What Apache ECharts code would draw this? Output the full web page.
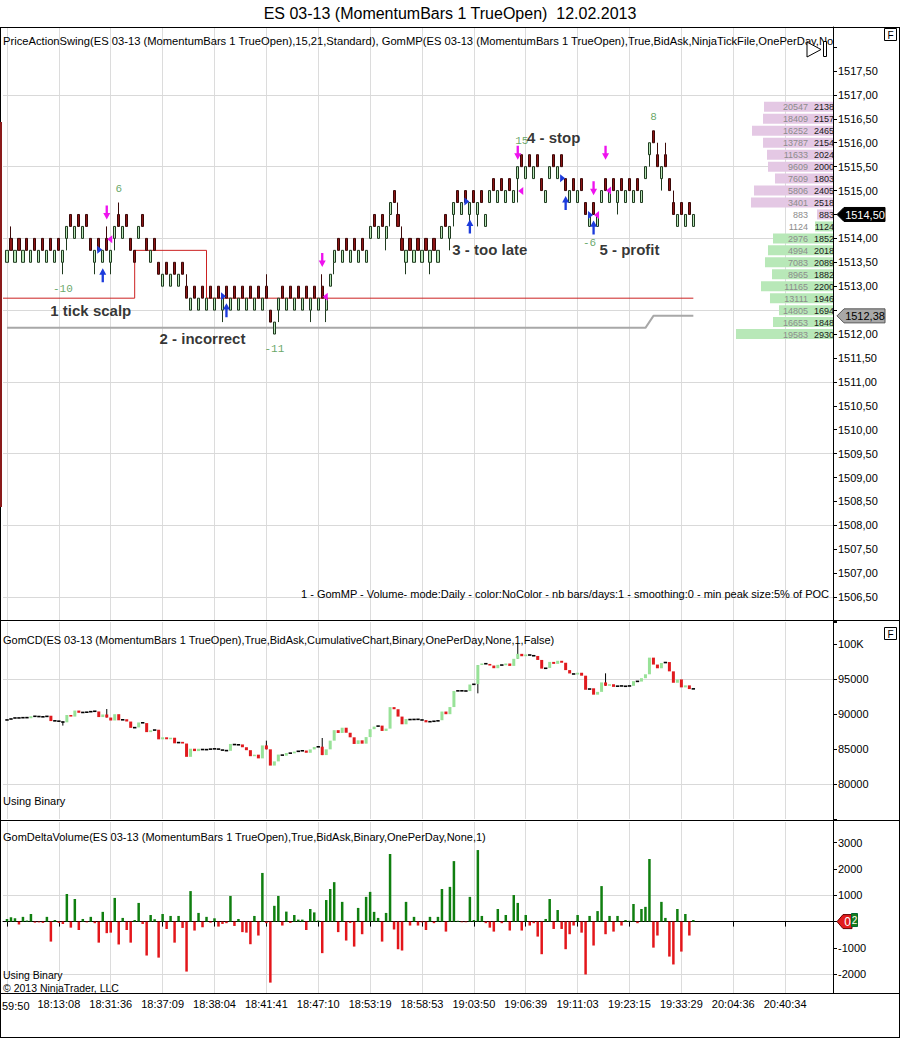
<!DOCTYPE html>
<html><head><meta charset="utf-8">
<script src="https://cdn.jsdelivr.net/npm/echarts@6/dist/echarts.min.js"></script>
<style>html,body{margin:0;padding:0;background:#fff}#chart{width:900px;height:1039px}</style>
</head><body><div id="chart"></div>
<script>
const FONT = '"Liberation Sans", Arial, Helvetica, sans-serif';
const MONO = '"Liberation Mono", "DejaVu Sans Mono", monospace';

// ---------- data ----------
// first label is shown clipped in the original as "59:50"
const timeLabels = ['59:50','18:13:08','18:31:36','18:37:09','18:38:04','18:41:41','18:47:10','18:53:19','18:58:53','19:03:50','19:06:39','19:11:03','19:23:15','19:33:29','20:04:36','20:40:34'];

const barOpen = [
1513.5,1514,1513.5,1514,1513.5,1514,1513.5,1514,1513.5,1514,
1513.5,1514,1513.5,1514,1513.5,1514,1514.5,1514,1514.5,1514,
1514.5,1514,1513.5,1514,1513.5,1514,1513.5,1514,1514.5,1514,
1514.5,1514,1513.75,1514,1514.5,1514,1513.5,1514,1513.5,1513,
1513.5,1513,1513.5,1513,1513.5,1513,1512.5,1513,1512.5,1513,
1512.5,1513,1512.5,1513,1512.5,1513,1512.5,1513,1512.5,1513,
1512.5,1513,1512.5,1513,1512.5,1513,1512.5,1512,1512.5,1513,
1512.5,1513,1512.5,1513,1512.5,1513,1512.5,1513,1512.5,1513,
1512.5,1513,1513.5,1514,1513.5,1514,1513.5,1514,1513.5,1514,
1513.5,1514,1514.5,1514,1514.5,1514,1514.5,1515,1514.5,1514,
1513.5,1514,1513.5,1514,1513.5,1514,1513.5,1514,1513.5,1514,
1514.5,1514,1514.5,1515,1514.5,1515,1514.5,1515,1514.5,1515,
1514.25,1514.75,1515.25,1514.75,1515.25,1514.75,1515.25,1514.75,1515.25,1515.75,
1515.25,1515.75,1515.25,1515.75,1515.25,1514.75,1515.25,1515.75,1515.25,1515.75,
1515.25,1514.75,1515.25,1514.75,1515.25,1514.75,1514.25,1514.75,1514.25,1514.75,
1515.25,1514.75,1515.25,1514.75,1515.25,1514.75,1515.25,1514.75,1515.25,1514.75,
1515.25,1515.75,1516.25,1515.75,1515.25,1515.75,1515.25,1514.75,1514.25,1514.75,
1514.25,1514.75,1514.25];
const barClose = [
1513.75,1513.75,1513.75,1513.75,1513.75,1513.75,1513.75,1513.75,1513.75,1513.75,
1513.75,1513.75,1513.75,1513.75,1513.75,1514.25,1514.25,1514.25,1514.25,1514.25,
1514.25,1513.75,1513.75,1513.75,1513.75,1513.75,1513.75,1514.25,1514.25,1514.25,
1514.25,1513.75,1513.5,1514.25,1514.25,1513.75,1513.75,1513.75,1513.25,1513.25,
1513.25,1513.25,1513.25,1513.25,1513.25,1512.75,1512.75,1512.75,1512.75,1512.75,
1512.75,1512.75,1512.75,1512.75,1512.75,1512.75,1512.75,1512.75,1512.75,1512.75,
1512.75,1512.75,1512.75,1512.75,1512.75,1512.75,1512.25,1512.25,1512.75,1512.75,
1512.75,1512.75,1512.75,1512.75,1512.75,1512.75,1512.75,1512.75,1512.75,1512.75,
1512.75,1513.25,1513.75,1513.75,1513.75,1513.75,1513.75,1513.75,1513.75,1513.75,
1513.75,1514.25,1514.25,1514.25,1514.25,1514.25,1514.75,1514.75,1514.25,1513.75,
1513.75,1513.75,1513.75,1513.75,1513.75,1513.75,1513.75,1513.75,1513.75,1514.25,
1514.25,1514.25,1514.75,1514.75,1514.75,1514.75,1514.75,1514.75,1514.75,1514.75,
1514.5,1515,1515,1515,1515,1515,1515,1515,1515.5,1515.5,
1515.5,1515.5,1515.5,1515.5,1515,1515,1515.5,1515.5,1515.5,1515.5,
1515,1515,1515,1515,1515,1514.5,1514.5,1514.5,1514.5,1515,
1515,1515,1515,1515,1515,1515,1515,1515,1515,1515,
1515.5,1516,1516,1515.5,1515.5,1515.5,1515,1514.5,1514.5,1514.5,
1514.5,1514.5,1514.5];
const wickHigh = {1:1514.25,25:1514.25,28:1514.75,45:1513.25,65:1513.25,79:1513.25,98:1514.75,99:1514.25,150:1515.25,156:1515.25,163:1516.0,165:1516.0,167:1515.0};
const wickLow = {14:1513.25,15:1513.75,22:1513.25,26:1513.25,27:1513.75,54:1512.25,68:1512.25,76:1512.25,80:1512.25,82:1513.25,95:1513.75,96:1514.25,100:1513.25,106:1513.25,111:1513.75,112:1514.25,116:1514.25,118:1514.25,128:1514.75,153:1514.5,161:1515.5,164:1515.0};

const srLine = [[-1,1512.75],[32,1513.75],[50,1512.75],[172,1512.75]];
const pocLine = [[0,1512.13],[160,1512.13],[162,1512.38],[172,1512.38]];

const sellArrows = [[25,1514.54],[79,1513.55],[128,1515.79],[147,1515.05],[150,1515.79]];
const buyArrows = [[24,1513.23],[55,1512.5],[116,1514.25],[140,1514.74],[147,1514.23]];
const buyTris = [[23,1513.76],[54,1512.79],[115,1514.77],[139,1515.26],[146,1514.49]];
const sellTris = [[26,1513.98],[80,1512.78],[129,1514.99],[148,1514.49],[151,1515.0]];

const swingLabels = [[28,1515.03,'6'],[14,1512.94,'-10'],[67,1511.69,'-11'],[129,1516.04,'15'],[162,1516.54,'8'],[146,1513.9,'-6']];
const notes = [[21,1512.50,'1 tick scalp'],[49,1511.90,'2 - incorrect'],[121,1513.76,'3 - too late'],[137,1516.12,'4 - stop'],[156,1513.76,'5 - profit']];

const lastPrice = 1514.50;
const priceTags = [[1514.50,'1514,50'],[1512.38,'1512,38']];

const profilePrice = [1516.75,1516.5,1516.25,1516.0,1515.75,1515.5,1515.25,1515.0,1514.75,1514.5,1514.25,1514.0,1513.75,1513.5,1513.25,1513.0,1512.75,1512.5,1512.25,1512.0];
const profileCum = [20547,18409,16252,13787,11633,9609,7609,5806,3401,883,1124,2976,4994,7083,8965,11165,13111,14805,16653,19583];
const profileVol = [2138,2157,2465,2154,2024,2000,1803,2405,2518,883,1124,1852,2018,2089,1882,2200,1946,1694,1848,2930];
const profileBar = [2110,2140,2477,2140,2018,1988,1774,2416,2508,490,550,1835,1988,2080,1865,2202,1927,1651,1835,2966];

const cdFirstOpen = 89100;
const cdClose = [
89200,89370,89490,89380,89560,89400,89690,89650,89620,89570,
89750,88990,89050,88900,88810,89860,89630,90490,90170,90270,
90240,90420,90360,89560,89930,89490,89070,89970,89100,89240,
88920,88020,88080,88790,88700,87410,87660,87750,86380,86670,
86390,86610,85810,86020,85780,83880,85040,84700,85030,84820,
85000,84960,85080,84890,84800,84740,85720,85550,85650,85250,
84830,83970,84190,83660,85510,84950,82630,83230,84200,84050,
84430,84380,84630,84710,84780,84460,84940,85290,85330,84130,
84950,86190,87690,87290,88040,87320,86670,85720,86240,85760,
86700,87830,88200,88340,87580,87910,90980,90680,89630,88530,
89280,89130,89310,89160,89130,88810,88990,88930,89110,90350,
89970,90990,93290,93320,93300,93270,94210,94270,96990,97210,
97150,96920,96540,97020,96960,97210,96870,97880,98590,98250,
98500,98350,98290,97720,96480,96580,97440,97160,97600,97320,
96270,95790,95640,95890,95470,93460,93670,92760,93160,94510,
94030,94250,93870,94080,93930,93990,94020,94690,94630,95110,
95670,98050,97060,96530,97280,97420,96090,94460,94940,93800,
94090,93560,93620];
const cdWickHigh = {25:90710,65:86190,79:86570,128:100000,150:95810};
const cdWickLow = {14:88340,118:92950};

const deltaVol = [
100,165,125,-110,180,40,290,-40,-30,-50,
180,-760,60,-50,-90,1050,-230,860,-320,100,
-30,180,-60,-800,370,-440,-420,900,-870,140,
-320,-800,60,710,-90,-1290,250,90,-1370,290,
-280,215,-800,215,-240,-1900,1160,-340,330,-215,
180,-40,125,-190,-90,-60,975,-165,100,-400,
-420,-860,215,-530,1850,-60,-2320,600,975,-150,
380,-50,250,75,75,-320,480,350,40,-1200,
820,1240,1500,-400,750,-720,-50,-950,520,-480,
940,1130,370,140,-760,330,2570,-300,-1050,-1100,
750,-150,180,-150,-30,-320,180,-60,180,1240,
-380,1320,2300,30,-25,-25,940,60,2720,215,
-60,-230,-380,480,-60,250,-340,1010,710,-340,
250,-150,-60,-570,-1240,100,860,-280,440,-280,
-1050,-480,-150,250,-420,-2010,215,-910,400,1350,
-480,215,-380,215,-150,60,30,670,-60,480,
560,2380,-990,-530,750,140,-1330,-1630,480,-1140,
290,-530,60];
const deltaTicks = [-2000,-1000,0,1000,2000,3000];
const deltaTags = [[0,'0'],[60,'2']];

const priceGridLevels = [1506.5,1508,1509.5,1511,1512.5,1514,1515.5,1517];
const cdGridLevels = [80000,95000];
const deltaGridLevels = [1000,-2000];

// ---------- layout helpers ----------
const SLOTS = 209;          // 1 leading slot + bars + future slots
const LABEL_EVERY = 13;
const cats = Array.from({length: SLOTS}, (_, i) => String(i));
const slot = i => i + 1;    // bar index -> category slot
const tickInt = idx => idx >= 1 && (idx - 1) % LABEL_EVERY === 0;
// the first label sits on the left edge; it is drawn left-aligned separately
const labelAt = idx => (tickInt(idx) && idx > 1) ? (timeLabels[(idx - 1) / LABEL_EVERY] || '') : '';
const coveredPriceLabels = priceTags.map(t => Math.round(t[0] * 2) / 2);

const priceData = barOpen.map((o, i) => {
  const c = barClose[i];
  return [slot(i), o, c, wickLow[i] !== undefined ? wickLow[i] : Math.min(o, c), wickHigh[i] !== undefined ? wickHigh[i] : Math.max(o, c)];
});
const cdData = cdClose.map((c, i) => {
  const o = i === 0 ? cdFirstOpen : cdClose[i - 1];
  return [slot(i), o, c, cdWickLow[i] !== undefined ? cdWickLow[i] : Math.min(o, c), cdWickHigh[i] !== undefined ? cdWickHigh[i] : Math.max(o, c)];
});
const deltaData = deltaVol.map((v, i) => [slot(i), v]);

function gridLines(levels) {
  return {silent: true, symbol: ['none', 'none'], z: 1, animation: false, label: {show: false},
    lineStyle: {color: '#d9d9d9', width: 1, type: 'solid'}, emphasis: {disabled: true},
    data: levels.map(v => ({yAxis: v}))};
}
function xAxisCfg(gridIndex, main) {
  return {
    type: 'category', gridIndex, data: cats, boundaryGap: false,
    axisLine: {show: main, lineStyle: {color: '#000'}},
    axisTick: {show: main, interval: tickInt, length: 5, lineStyle: {color: '#000'}},
    axisLabel: {show: main, interval: tickInt, formatter: v => labelAt(Number(v)), color: '#000', fontSize: 11, fontFamily: FONT, margin: 5},
    splitLine: {show: true, interval: tickInt, lineStyle: {color: '#dcdcdc', width: 1}}
  };
}
function yAxisCfg(gridIndex, extra) {
  return Object.assign({
    type: 'value', gridIndex, position: 'right',
    axisLine: {show: true, lineStyle: {color: '#000'}},
    axisTick: {show: true, length: 4, lineStyle: {color: '#000'}},
    splitLine: {show: false}
  }, extra);
}
const axisLabelStyle = {margin: 5, color: '#000', fontSize: 11, fontFamily: FONT};

const arrowDown = 'path://M2,0 L4,0 L4,7 L6,7 L3,13 L0,7 L2,7 Z';
const arrowUp = 'path://M3,0 L6,6 L4,6 L4,13 L2,13 L2,6 L0,6 Z';
const triRight = 'path://M0,0 L5,3.5 L0,7 Z';
const triLeft = 'path://M5,0 L0,3.5 L5,7 Z';

function markerSeries(list, symbol, size, color, offset) {
  return {type: 'scatter', xAxisIndex: 0, yAxisIndex: 0, z: 6, symbol, symbolSize: size, symbolOffset: offset,
    itemStyle: {color, opacity: 1}, silent: true, data: list.map(d => [slot(d[0]), d[1]])};
}
function textSeries(list, labelStyle) {
  return {type: 'scatter', xAxisIndex: 0, yAxisIndex: 0, z: 7, symbolSize: 1, silent: true,
    itemStyle: {color: 'rgba(0,0,0,0)'},
    label: Object.assign({show: true, position: 'inside', formatter: p => list[p.dataIndex][2]}, labelStyle),
    data: list.map(d => [slot(d[0]), d[1]])};
}

function renderCD(params, api) {
  const x = api.value(0), o = api.value(1), c = api.value(2), l = api.value(3), h = api.value(4);
  const pO = api.coord([x, o]), pC = api.coord([x, c]), pL = api.coord([x, l]), pH = api.coord([x, h]);
  const cx = pO[0];
  const top = Math.min(pO[1], pC[1]), bot = Math.max(pO[1], pC[1]);
  const ch = [];
  if (pH[1] < top - 0.5 || pL[1] > bot + 0.5) {
    ch.push({type: 'line', shape: {x1: cx, y1: pH[1], x2: cx, y2: pL[1]}, style: {stroke: '#000', lineWidth: 1}});
  }
  if (bot - top < 1.5) {
    ch.push({type: 'rect', shape: {x: cx - 1.7, y: (top + bot) / 2 - 0.8, width: 3.4, height: 1.6}, style: {fill: '#000'}});
  } else {
    ch.push({type: 'rect', shape: {x: cx - 1.5, y: top, width: 3, height: bot - top}, style: {fill: c >= o ? '#98e298' : '#e01a1e'}});
  }
  return {type: 'group', children: ch};
}
function renderProfile(params, api) {
  const len = api.value(0), p = api.value(1), cum = api.value(2), vol = api.value(3);
  const a = api.coord([0, p]), b = api.coord([len, p]);
  const fill = p >= lastPrice ? '#e4c8e4' : '#b8e8b8';
  return {type: 'group', children: [
    {type: 'rect', shape: {x: b[0], y: a[1] - 5, width: a[0] - b[0], height: 10}, style: {fill}},
    {type: 'text', x: a[0] - 25, y: a[1] + 0.5, style: {text: String(cum), align: 'right', verticalAlign: 'middle', fill: '#8c8c8c', font: '9px ' + FONT}},
    {type: 'text', x: a[0] + 1, y: a[1] + 0.5, style: {text: String(vol), align: 'right', verticalAlign: 'middle', fill: '#1a1a1a', font: '9px ' + FONT}}
  ]};
}
const priceTagStyle = [{fill: '#000', stroke: '#000', text: '#fff'}, {fill: '#a8a8a8', stroke: '#555', text: '#000'}];
function renderPriceTag(params, api) {
  const st = priceTagStyle[params.dataIndex];
  const y = api.coord([1, api.value(1)])[1];
  const x0 = params.coordSys.x + params.coordSys.width;
  return {type: 'group', children: [
    {type: 'polygon', shape: {points: [[x0 + 4, y], [x0 + 11, y - 7], [x0 + 52, y - 7], [x0 + 52, y + 7], [x0 + 11, y + 7]]}, style: {fill: st.fill, stroke: st.stroke, lineWidth: 1}},
    {type: 'text', x: x0 + 32, y: y + 0.5, style: {text: priceTags[params.dataIndex][1], align: 'center', verticalAlign: 'middle', fill: st.text, font: '11px ' + FONT}}
  ]};
}
function renderDeltaTag(params, api) {
  const y = api.coord([1, api.value(1)])[1];
  const x0 = params.coordSys.x + params.coordSys.width;
  const txt = deltaTags[params.dataIndex][1];
  if (params.dataIndex === 0) {
    return {type: 'group', children: [
      {type: 'polygon', shape: {points: [[x0 + 4, y], [x0 + 10, y - 7], [x0 + 19, y - 7], [x0 + 19, y + 7], [x0 + 10, y + 7]]}, style: {fill: '#e21c1c', stroke: '#600', lineWidth: 1}},
      {type: 'text', x: x0 + 14.5, y: y + 0.5, style: {text: txt, align: 'center', verticalAlign: 'middle', fill: '#fff', font: '12px ' + FONT}}
    ]};
  }
  return {type: 'group', children: [
    {type: 'rect', shape: {x: x0 + 18.5, y: y - 6.5, width: 6, height: 13}, style: {fill: '#1b7d1b', stroke: '#063', lineWidth: 1}},
    {type: 'text', x: x0 + 21.5, y: y + 0.5, style: {text: txt, align: 'center', verticalAlign: 'middle', fill: '#fff', font: '10px ' + FONT}}
  ]};
}

const hdr1 = 'PriceActionSwing(ES 03-13 (MomentumBars 1 TrueOpen),15,21,Standard), GomMP(ES 03-13 (MomentumBars 1 TrueOpen),True,BidAsk,NinjaTickFile,OnePerDay,No';
const hdr2 = 'GomCD(ES 03-13 (MomentumBars 1 TrueOpen),True,BidAsk,CumulativeChart,Binary,OnePerDay,None,1,False)';
const hdr3 = 'GomDeltaVolume(ES 03-13 (MomentumBars 1 TrueOpen),True,BidAsk,Binary,OnePerDay,None,1)';
const mpNote = '1 - GomMP - Volume- mode:Daily - color:NoColor - nb bars/days:1 - smoothing:0 - min peak size:5% of POC';

function txt(x, y, text, opts) {
  return Object.assign({type: 'text', x, y, z: 70, silent: true, style: Object.assign({text, fill: '#000', font: '11px ' + FONT, verticalAlign: 'middle', align: 'left'}, opts || {})});
}
function hline(y, x1, x2) { return {type: 'line', z: 60, silent: true, shape: {x1, y1: y, x2, y2: y}, style: {stroke: '#000', lineWidth: 1}}; }
function vline(x, y1, y2, color, w) { return {type: 'line', z: 60, silent: true, shape: {x1: x, y1, x2: x, y2}, style: {stroke: color || '#000', lineWidth: w || 1}}; }
function fBox(y) {
  return [{type: 'rect', z: 61, silent: true, shape: {x: 884.5, y: y, width: 12, height: 12}, style: {fill: '#fff', stroke: '#000', lineWidth: 1}},
          txt(890.5, y + 6.5, 'F', {align: 'center', font: '10px ' + FONT})];
}

const chart = echarts.init(document.getElementById('chart'), null, {renderer: 'svg', width: 900, height: 1039});
chart.setOption({
  animation: false,
  backgroundColor: '#fff',
  title: {text: 'ES 03-13 (MomentumBars 1 TrueOpen)  12.02.2013', left: 'center', top: 5, padding: 0,
    textStyle: {fontSize: 16, fontWeight: 'normal', color: '#000', fontFamily: FONT}},
  grid: [
    {left: 3, width: 830, top: 27, height: 594, containLabel: false, outerBoundsMode: 'none'},
    {left: 3, width: 830, top: 622, height: 197, containLabel: false, outerBoundsMode: 'none'},
    {left: 3, width: 830, top: 822, height: 171, containLabel: false, outerBoundsMode: 'none'},
    {left: 733, width: 100, top: 27, height: 594, containLabel: false, outerBoundsMode: 'none'}
  ],
  xAxis: [
    xAxisCfg(0, false), xAxisCfg(1, false), xAxisCfg(2, true),
    {type: 'value', gridIndex: 3, inverse: true, min: 0, max: 3058, show: false}
  ],
  yAxis: [
    yAxisCfg(0, {min: 1506, max: 1518.42, interval: 0.5,
      axisLabel: Object.assign({formatter: v => (v >= 1506.4 && v <= 1517.6 && coveredPriceLabels.indexOf(v) < 0) ? v.toFixed(2).replace('.', ',') : ''}, axisLabelStyle)}),
    yAxisCfg(1, {min: 75000, max: 103140, interval: 5000,
      axisLabel: Object.assign({formatter: v => v === 100000 ? '100K' : ((v >= 80000 && v <= 95000) ? String(v) : '')}, axisLabelStyle)}),
    yAxisCfg(2, {min: -2715, max: 3787,
      axisTick: {show: true, length: 4, lineStyle: {color: '#000'}, customValues: deltaTicks},
      axisLabel: Object.assign({customValues: deltaTicks, formatter: v => v === 0 ? '' : String(v)}, axisLabelStyle)}),
    {type: 'value', gridIndex: 3, min: 1506, max: 1518.42, show: false}
  ],
  series: [
    {type: 'line', name: 'poc', xAxisIndex: 0, yAxisIndex: 0, z: 2, symbol: 'none', silent: true,
      lineStyle: {color: '#a8a8a8', width: 2}, data: pocLine.map(d => [slot(d[0]), d[1]]),
      markLine: gridLines(priceGridLevels)},
    {type: 'line', name: 'swing', xAxisIndex: 0, yAxisIndex: 0, z: 2, symbol: 'none', silent: true, step: 'end',
      lineStyle: {color: '#cc2222', width: 1}, data: srLine.map(d => [slot(d[0]), d[1]])},
    {type: 'candlestick', name: 'price', xAxisIndex: 0, yAxisIndex: 0, z: 4, silent: true, barWidth: 2.6,
      encode: {x: 0, y: [1, 2, 3, 4]},
      itemStyle: {color: '#b8e6b8', color0: '#8c1414', borderColor: '#1f3a1f', borderColor0: '#3a0808', borderWidth: 1},
      data: priceData},
    markerSeries(sellArrows, arrowDown, [7, 14], '#ee12ee', [0, 0]),
    markerSeries(buyArrows, arrowUp, [7, 14], '#1c3bdc', [0, 0]),
    markerSeries(buyTris, triRight, [5, 8], '#1c3bdc', [1, 0]),
    markerSeries(sellTris, triLeft, [5, 8], '#ee12ee', [-1, 0]),
    textSeries(swingLabels, {color: '#3f8f3f', fontSize: 11, fontFamily: MONO}),
    textSeries(notes, {color: '#000', fontSize: 15, fontWeight: 'bold', fontFamily: FONT}),
    {type: 'custom', name: 'priceTags', xAxisIndex: 0, yAxisIndex: 0, z: 20, silent: true, clip: false,
      renderItem: renderPriceTag, data: priceTags.map(t => [1, t[0]])},
    {type: 'custom', name: 'profile', xAxisIndex: 3, yAxisIndex: 3, z: 3, silent: true,
      renderItem: renderProfile, data: profilePrice.map((p, i) => [profileBar[i], p, profileCum[i], profileVol[i]])},
    {type: 'custom', name: 'cd', xAxisIndex: 1, yAxisIndex: 1, z: 4, silent: true,
      renderItem: renderCD, data: cdData, markLine: gridLines(cdGridLevels)},
    {type: 'bar', name: 'delta', xAxisIndex: 2, yAxisIndex: 2, z: 4, silent: true, barWidth: 2.5,
      itemStyle: {color: p => p.value[1] >= 0 ? '#107f10' : '#e3161b'},
      data: deltaData, markLine: gridLines(deltaGridLevels)},
    {type: 'custom', name: 'deltaTags', xAxisIndex: 2, yAxisIndex: 2, z: 20, silent: true, clip: false,
      renderItem: renderDeltaTag, data: deltaTags.map(t => [1, t[0]])}
  ],
  graphic: [
    txt(3, 40.5, hdr1, {font: '11.2px ' + FONT}),
    {type: 'polygon', z: 71, silent: true, shape: {points: [[807, 42], [821, 49.5], [807, 57]]}, style: {fill: '#fff', stroke: '#000', lineWidth: 1}},
    {type: 'rect', z: 71, silent: true, shape: {x: 823.5, y: 41.5, width: 3, height: 15}, style: {fill: '#fff', stroke: '#000', lineWidth: 1}},
    txt(829, 593.5, mpNote, {align: 'right'}),
    txt(3, 639.5, hdr2),
    txt(3, 800.5, 'Using Binary'),
    txt(3, 836.5, hdr3),
    txt(3, 975, 'Using Binary', {font: '10.5px ' + FONT}),
    txt(3, 987.5, '\u00a9 2013 NinjaTrader, LLC', {font: '10.5px ' + FONT}),
    txt(2, 1005.5, timeLabels[0]),
    hline(27.5, 0, 900), hline(620.5, 0, 900), hline(820.5, 0, 900), hline(993.5, 0, 900), hline(1037.5, 0, 900),
    vline(0.5, 27, 1038), vline(899.5, 27, 1038), vline(833.5, 27, 993),
    vline(1, 122, 507, '#8b1a1a', 2),
    ...fBox(28.5), ...fBox(627.5)
  ]
});
</script></body></html>
